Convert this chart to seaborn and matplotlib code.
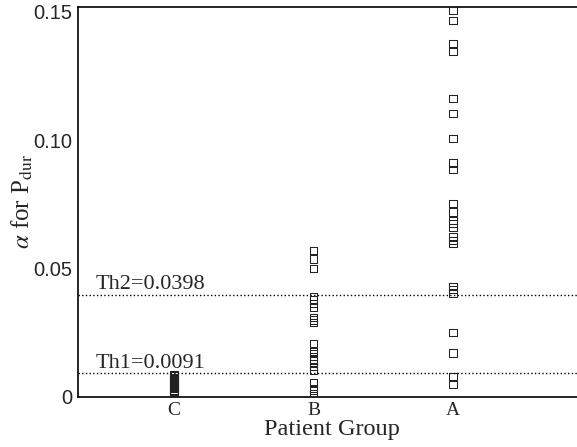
import matplotlib
matplotlib.use("Agg")
import matplotlib.pyplot as plt
import numpy as np
import pandas as pd
import seaborn as sns

# values
alpha_c = [0.0086, 0.0081, 0.0076, 0.0071, 0.0066, 0.0061, 0.0056, 0.0051, 0.0046,
           0.0041, 0.0036, 0.0031, 0.0026, 0.0021, 0.0016, 0.0012]
alpha_b = [0.0569, 0.0537, 0.0499, 0.0390, 0.0380, 0.0364, 0.0348, 0.0309, 0.0299,
           0.0288, 0.0208, 0.0175, 0.0169, 0.0156, 0.0143, 0.0130, 0.0117, 0.0104,
           0.0056, 0.0033, 0.0023, 0.0013]
alpha_a = [0.1504, 0.1465, 0.1376, 0.1345, 0.1163, 0.1105, 0.1006, 0.0911, 0.0885,
           0.0754, 0.0720, 0.0687, 0.0675, 0.0660, 0.0622, 0.0610, 0.0596,
           0.0430, 0.0417, 0.0404, 0.0250, 0.0170, 0.0078, 0.0048]
groups = ["C", "B", "A"]
th1 = 0.0091
th2 = 0.0398
y_ticks = [0, 0.05, 0.10, 0.15]
y_tick_labels = ["0", "0.05", "0.10", "0.15"]

df = pd.DataFrame({
    "group": ["C"] * len(alpha_c) + ["B"] * len(alpha_b) + ["A"] * len(alpha_a),
    "alpha": alpha_c + alpha_b + alpha_a,
})

sns.set_style("white")
plt.rcParams["mathtext.fontset"] = "stix"

fig = plt.figure(figsize=(5.77, 4.47), dpi=100)
ax = fig.add_axes([0.135, 0.1125, 0.88, 0.8725])

sns.stripplot(data=df, x="group", y="alpha", order=groups, jitter=False,
              marker="s", size=5.3, color="white", edgecolor="#222222",
              linewidth=0.75, ax=ax)
for coll in ax.collections:
    coll.set_facecolor("none")

ax.axhline(th2, color="black", linestyle=":", linewidth=1.0)
ax.axhline(th1, color="black", linestyle=":", linewidth=1.0)
ax.text(-0.56, th2 + 0.0022, f"Th2={th2}", family="Liberation Serif", fontsize=16)
ax.text(-0.56, th1 + 0.0022, f"Th1={th1}", family="Liberation Serif", fontsize=16)

ax.set_xlim(-0.69, 2.95)
ax.set_ylim(0, 0.152)
ax.set_yticks(y_ticks)
ax.set_yticklabels(y_tick_labels, family="Liberation Sans", fontsize=14.5)
for lab in ax.get_xticklabels():
    lab.set_family("Liberation Serif")
    lab.set_fontsize(14)
ax.tick_params(axis="y", direction="in", length=4, width=1, pad=4)
ax.tick_params(axis="x", length=0, pad=4)

ax.set_xlabel("Patient Group", family="Liberation Serif", fontsize=17.5, labelpad=0)
ax.set_ylabel(r"$\alpha$ for P$_{\mathrm{dur}}$", family="Liberation Serif",
              fontsize=18)
ax.yaxis.set_label_coords(-0.085, 0.5)

for side in ["left", "bottom", "top"]:
    ax.spines[side].set_color("black")
    ax.spines[side].set_linewidth(1.2)
ax.spines["right"].set_visible(False)

fig.savefig("out.png", dpi=100)
